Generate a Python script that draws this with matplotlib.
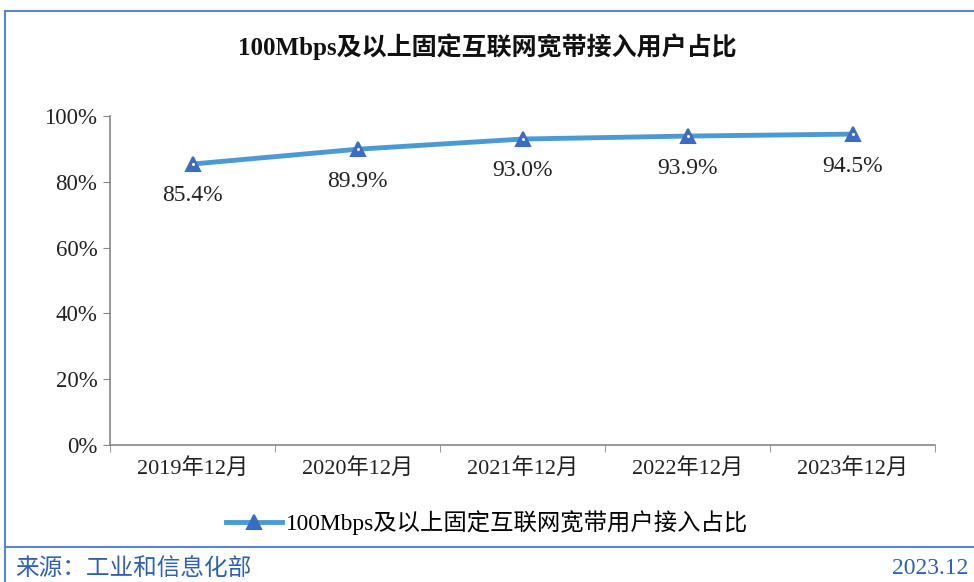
import matplotlib
matplotlib.use("Agg")
import matplotlib.pyplot as plt
from matplotlib.lines import Line2D

categories = ["2019年12月", "2020年12月", "2021年12月", "2022年12月", "2023年12月"]
values = [85.4, 89.9, 93.0, 93.9, 94.5]
yticks = [0, 20, 40, 60, 80, 100]
title = "100Mbps及以上固定互联网宽带接入用户占比"
legend_label = "100Mbps及以上固定互联网宽带用户接入占比"
source = "来源：工业和信息化部"
date = "2023.12"

plt.rcParams['font.family'] = ['Liberation Serif', 'Noto Sans CJK SC']

W, H = 974, 582
fig = plt.figure(figsize=(W/100, H/100), dpi=100)

ax = fig.add_axes([110/W, 1-445/H, (935-110)/W, (445-116)/H])
x = list(range(len(categories)))
line_c = '#4b9ad6'
mk_c = '#3a6cc0'
ax.plot(x, values, color=line_c, lw=3.5, zorder=3)
ax.plot(x, values, linestyle='none', marker='^', ms=10,
        markerfacecolor=mk_c, markeredgecolor=mk_c, markeredgewidth=1.5, zorder=4)
ax.plot(x, values, linestyle='none', marker='o', ms=2.2,
        markerfacecolor='white', markeredgecolor='white', markeredgewidth=0, zorder=5)
for xi, v in zip(x, values):
    ax.annotate(f"{v:.1f}%", (xi, v), xytext=(0, -23), textcoords='offset points',
                ha='center', va='center', fontsize=17, color='#222222')

ax.set_xlim(-0.5, len(categories)-0.5)
ax.set_ylim(0, 100)
ax.set_yticks(yticks)
ax.set_yticklabels([f"{t}%" for t in yticks], fontsize=16.5, color='#222222')
ax.set_xticks(x)
ax.set_xticklabels(categories, fontsize=16, color='#222222')
ax.set_xticks([i-0.5 for i in range(len(categories)+1)], minor=True)
ax.tick_params(axis='x', which='major', length=0, pad=9)
ax.tick_params(axis='x', which='minor', length=5, color='#888888', direction='out')
ax.tick_params(axis='y', length=5, color='#888888', direction='out', pad=4)
for s in ['top', 'right']:
    ax.spines[s].set_visible(False)
for s in ['left', 'bottom']:
    ax.spines[s].set_color('#888888')
    ax.spines[s].set_linewidth(1.2)

fig.text(0.5, 1-47/H, title, ha='center', va='center', fontsize=18, fontweight='bold', color='#111111')

handle = Line2D([0], [0], color=line_c, lw=3.5, marker='^', ms=10,
                markerfacecolor=mk_c, markeredgecolor=mk_c, markeredgewidth=1.5)
fig.legend([handle], [legend_label], loc='center', bbox_to_anchor=(0.5, 1-523/H),
           frameon=False, fontsize=16.8, handlelength=2.4, handletextpad=0.2)

frame_c = '#5b86c8'
fig.add_artist(Line2D([5/W, 5/W], [0, 1-11/H], color=frame_c, lw=1.5))
fig.add_artist(Line2D([5/W, 1], [1-11/H, 1-11/H], color=frame_c, lw=1.5))
fig.add_artist(Line2D([5/W, 1], [1-547/H, 1-547/H], color=frame_c, lw=1.5))

fig.text(15/W, 1-569/H, source, ha='left', va='center', fontsize=17, color='#2d62b0')
fig.text(968/W, 1-569/H, date, ha='right', va='center', fontsize=17, color='#2d62b0')

fig.savefig("out.png", dpi=100)
